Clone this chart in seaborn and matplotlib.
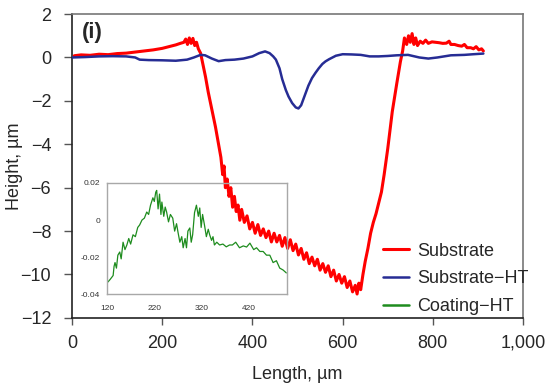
import numpy as np
import pandas as pd
import matplotlib
matplotlib.use('Agg')
import matplotlib.pyplot as plt
import matplotlib.ticker as mticker
import seaborn as sns

#Substrate profile (red)
sub_x = [5, 20, 40, 60, 80, 100, 120, 140, 160, 180, 200, 215, 230, 240, 248, 252, 256, 260,
         264, 268, 272, 276, 280, 285, 290, 296, 302, 310, 318, 324, 330, 334, 337, 340, 344,
         348, 352, 356, 360, 364, 368, 372, 376, 382, 388, 394, 400, 406, 412, 418, 424, 430,
         436, 442, 448, 454, 460, 466, 472, 478, 484, 490, 496, 502, 508, 514, 520, 526, 532,
         538, 544, 550, 556, 562, 568, 574, 580, 586, 592, 598, 604, 610, 616, 622, 628, 632,
         636, 640, 645, 650, 656, 662, 668, 674, 680, 686, 692, 700, 710, 720, 728, 733, 737,
         742, 746, 750, 754, 758, 762, 766, 772, 778, 784, 790, 798, 806, 814, 822, 830, 836,
         840, 848, 856, 864, 870, 876, 884, 890, 896, 902, 908, 912]
sub_y = [0.08, 0.12, 0.10, 0.15, 0.13, 0.18, 0.20, 0.25, 0.30, 0.35, 0.42, 0.50, 0.58, 0.65, 0.70,
         0.85, 0.60, 0.90, 0.65, 0.88, 0.55, 0.70, 0.40, 0.20, -0.30, -0.90, -1.60, -2.40, -3.20,
         -3.90, -4.60, -5.40, -5.00, -6.00, -5.60, -6.40, -6.00, -6.90, -6.40, -7.10, -6.80, -7.50,
         -7.00, -7.60, -7.30, -7.90, -7.60, -8.10, -7.70, -8.20, -7.90, -8.30, -8.00, -8.50, -8.10,
         -8.50, -8.20, -8.70, -8.30, -8.80, -8.40, -8.90, -8.60, -9.10, -8.80, -9.30, -9.00, -9.50,
         -9.20, -9.60, -9.30, -9.80, -9.50, -9.90, -9.60, -10.10, -9.80, -10.30, -10.00, -10.40,
         -10.10, -10.60, -10.30, -10.80, -10.50, -10.90, -10.40, -10.70, -10.00, -9.40, -8.80,
         -8.10, -7.60, -7.20, -6.70, -6.20, -5.40, -4.20, -2.50, -1.20, -0.20, 0.30, 0.90, 0.60,
         1.00, 0.70, 1.10, 0.60, 0.90, 0.55, 0.75, 0.65, 0.80, 0.65, 0.72, 0.70, 0.68, 0.65, 0.66,
         0.75, 0.60, 0.60, 0.55, 0.52, 0.60, 0.45, 0.45, 0.40, 0.50, 0.35, 0.40, 0.30]

#Substrate-HT profile (blue)
ht_x = [0, 30, 60, 90, 120, 140, 150, 170, 200, 230, 255, 270, 285, 295, 310, 325, 340, 360, 380,
        400, 415, 428, 438, 446, 452, 460, 466, 474, 480, 488, 496, 502, 508, 516, 524, 532, 540,
        547, 555, 562, 570, 585, 600, 620, 640, 660, 680, 700, 720, 745, 770, 790, 810, 840, 870,
        890, 912]
ht_y = [0.00, 0.02, 0.05, 0.06, 0.05, 0.00, -0.10, -0.12, -0.13, -0.15, -0.10, 0.00, 0.12, 0.10,
        -0.05, -0.17, -0.12, -0.10, -0.05, 0.05, 0.20, 0.28, 0.20, 0.05, -0.10, -0.50, -1.00,
        -1.50, -1.80, -2.10, -2.30, -2.35, -2.20, -1.75, -1.30, -0.95, -0.70, -0.50, -0.30, -0.18,
        -0.08, 0.08, 0.15, 0.14, 0.12, 0.05, 0.05, 0.07, 0.10, 0.12, 0.00, -0.05, 0.00, 0.10,
        0.12, 0.15, 0.18]

#Coating-HT profile (green, inset only)
coat_x = [122, 127, 133, 135, 137, 140, 143, 147, 150, 154, 158, 162, 166, 170, 175, 180, 185,
          189, 194, 199, 204, 208, 212, 217, 220, 223, 225, 228, 231, 234, 236, 240, 243, 246,
          250, 254, 259, 263, 267, 270, 274, 278, 281, 285, 288, 291, 295, 298, 301, 305, 309,
          313, 316, 319, 322, 326, 330, 334, 337, 341, 344, 347, 352, 358, 365, 372, 379, 385,
          392, 400, 408, 415, 422, 430, 436, 443, 450, 457, 464, 471, 478, 485, 492, 499]
coat_y = [-0.0335, -0.032, -0.030, -0.025, -0.023, -0.026, -0.019, -0.0173, -0.021, -0.012,
          -0.016, -0.0135, -0.010, -0.013, -0.008, -0.009, -0.004, -0.0027, 0.000, 0.001, 0.0043,
          0.003, 0.008, 0.012, 0.010, 0.015, 0.016, 0.006, 0.014, 0.003, 0.0097, 0.002, 0.007,
          0.0043, -0.001, 0.003, 0.001, -0.006, -0.002, -0.0065, -0.012, -0.009, -0.015, -0.010,
          -0.015, -0.006, -0.0043, -0.012, -0.008, 0.004, 0.008, 0.002, 0.0065, -0.004, 0.003,
          -0.0027, -0.009, -0.005, -0.008, -0.011, -0.009, -0.0135, -0.012, -0.0135, -0.013,
          -0.0145, -0.0135, -0.0135, -0.012, -0.015, -0.014, -0.0146, -0.0125, -0.016, -0.015,
          -0.017, -0.017, -0.019, -0.019, -0.023, -0.022, -0.026, -0.027, -0.0286]

sub_df = pd.DataFrame({'length': sub_x, 'height': sub_y})
ht_df = pd.DataFrame({'length': ht_x, 'height': ht_y})
coat_df = pd.DataFrame({'length': coat_x, 'height': coat_y})

sns.set_style('ticks')
plt.rcParams['font.family'] = ['Liberation Sans', 'DejaVu Sans']

fig = plt.figure(figsize=(5.5, 3.91), dpi=100)
ax = fig.add_axes([0.131, 0.187, 0.82, 0.777])

sns.lineplot(data=sub_df, x='length', y='height', ax=ax, color='#ff0000', lw=2.2,
             estimator=None, label='Substrate', zorder=3)
sns.lineplot(data=ht_df, x='length', y='height', ax=ax, color='#262c94', lw=1.8,
             estimator=None, label='Substrate\u2212HT', zorder=4)

ax.set_xlim(0, 1000)
ax.set_ylim(-12, 2)
ax.set_xticks(range(0, 1001, 200))
ax.set_yticks(range(-12, 3, 2))
ax.xaxis.set_major_formatter(mticker.StrMethodFormatter('{x:,.0f}'))
ax.tick_params(axis='x', labelsize=13, length=5, width=1, pad=7, color='#555555')
ax.tick_params(axis='y', labelsize=13, length=6, width=1, pad=9, color='#555555')
ax.set_xlabel('Length, \u00b5m', fontsize=13)
ax.set_ylabel('Height, \u00b5m', fontsize=13)
ax.xaxis.set_label_coords(0.5, -0.158)
ax.yaxis.set_label_coords(-0.108, 0.5)
for s in ['left', 'bottom']:
    ax.spines[s].set_color('#222222')
    ax.spines[s].set_linewidth(1.2)
for s in ['top', 'right']:
    ax.spines[s].set_visible(True)
    ax.spines[s].set_color('#777777')
    ax.spines[s].set_linewidth(1.2)

ax.text(0.022, 0.94, '(i)', transform=ax.transAxes, fontsize=16, fontweight='bold',
        va='center', ha='left')

#Inset with the coating profile
ins = fig.add_axes([0.1945, 0.248, 0.327, 0.284])
ins.set_facecolor('none')
sns.lineplot(data=coat_df, x='length', y='height', ax=ins, color='#1e8c1e', lw=0.9,
             estimator=None, legend=False)
ins.set_xlim(120, 500)
ins.set_ylim(-0.04, 0.02)
ins.set_xticks([120, 220, 320, 420])
ins.set_yticks([-0.04, -0.02, 0, 0.02])
ins.set_yticklabels(['-0.04', '-0.02', '0', '0.02'])
ins.tick_params(axis='x', labelsize=6, length=0, pad=8, labelcolor='#333333')
ins.tick_params(axis='y', labelsize=6, length=0, pad=5, labelcolor='#333333')
ins.set_xlabel('')
ins.set_ylabel('')
for s in ins.spines.values():
    s.set_visible(True)
    s.set_color('#a8a8a8')
    s.set_linewidth(1.0)

coat_handle = plt.Line2D([], [], color='#1e8c1e', lw=1.8)
handles, labels = ax.get_legend_handles_labels()
handles.append(coat_handle)
labels.append('Coating\u2212HT')
ax.legend(handles, labels, loc='center left', bbox_to_anchor=(0.69, 0.128), frameon=False,
          fontsize=13, handlelength=1.4, handletextpad=0.5, labelspacing=0.6,
          borderpad=0, borderaxespad=0)

fig.savefig('out.png', dpi=100)
